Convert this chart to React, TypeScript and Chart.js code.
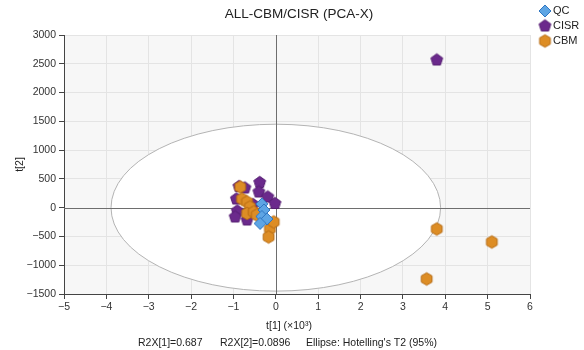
import React, { useEffect, useRef } from 'react';
import { Chart, registerables } from 'chart.js';

Chart.register(...registerables);

const TITLE = 'ALL-CBM/CISR (PCA-X)';
const X_TITLE = 't[1] (×10³)';
const Y_TITLE = 't[2]';
const FOOTNOTES = ['R2X[1]=0.687', 'R2X[2]=0.0896', "Ellipse: Hotelling's T2 (95%)"];
const SERIES_NAMES = ['QC', 'CISR', 'CBM'];

const X_MIN = -5;
const X_MAX = 6;
const X_STEP = 1;
const Y_MIN = -1500;
const Y_MAX = 3000;
const Y_STEP = 500;

// Hotelling's T2 ellipse semi-axes (data units)
const ELLIPSE_RX = 3.89;
const ELLIPSE_RY = 1450;

const QC_X = [-0.33, -0.28, -0.33, -0.21, -0.37];
const QC_Y = [64, -40, -153, -196, -275];

const CISR_X = [-0.87, -0.73, -0.38, -0.40, -0.19, -0.02, -0.93, -0.91, -0.96, -0.68, -0.54, 3.80];
const CISR_Y = [368, 342, 438, 273, 186, 73, 151, -57, -162, -214, 56, 2566];

const CBM_X = [-0.84, -0.80, -0.68, -0.61, -0.68, -0.52, -0.45, -0.14, -0.17, -0.05, 3.80, 5.10, 3.56];
const CBM_Y = [360, 151, 99, 12, -101, -75, -127, -370, -509, -248, -370, -596, -1239];

const FONT = '"Liberation Sans", Arial, sans-serif';

function makeShape(sides: number, r: number, fill: string, stroke: string): HTMLCanvasElement {
  const size = Math.ceil(r * 2 + 4);
  const c = document.createElement('canvas');
  c.width = size;
  c.height = size;
  const ctx = c.getContext('2d')!;
  const cx = size / 2;
  const cy = size / 2;
  ctx.beginPath();
  for (let i = 0; i < sides; i++) {
    const a = -Math.PI / 2 + (i * 2 * Math.PI) / sides;
    const px = cx + r * Math.cos(a);
    const py = cy + r * Math.sin(a);
    if (i === 0) ctx.moveTo(px, py);
    else ctx.lineTo(px, py);
  }
  ctx.closePath();
  ctx.fillStyle = fill;
  ctx.fill();
  ctx.lineWidth = 1;
  ctx.strokeStyle = stroke;
  ctx.stroke();
  return c;
}

function toPoints(xs: number[], ys: number[]) {
  return xs.map((x, i) => ({ x, y: ys[i] }));
}

const fmt = (v: number | string) => String(v).replace('-', '\u2212');

export default function App() {
  const ref = useRef<HTMLCanvasElement>(null);

  useEffect(() => {
    if (!ref.current) return;
    const qcShape = makeShape(4, 6, '#5ea5e4', '#2f76c2');
    const cisrShape = makeShape(5, 6.2, '#6b2a8c', '#561f72');
    const cbmShape = makeShape(6, 6.2, '#dd8d25', '#b56a12');
    const shapes = [qcShape, cisrShape, cbmShape];

    const decor = {
      id: 'decor',
      beforeDraw(chart: any) {
        const { ctx, chartArea: a } = chart;
        ctx.save();
        ctx.fillStyle = '#ffffff';
        ctx.fillRect(0, 0, chart.width, chart.height);
        ctx.fillStyle = '#f7f7f7';
        ctx.fillRect(a.left, a.top, a.right - a.left, a.bottom - a.top);
        ctx.restore();
      },
      beforeDatasetsDraw(chart: any) {
        const { ctx, chartArea: a, scales } = chart;
        const xs = scales.x;
        const ys = scales.y;
        const x0 = xs.getPixelForValue(0);
        const y0 = ys.getPixelForValue(0);
        const rx = xs.getPixelForValue(ELLIPSE_RX) - x0;
        const ry = y0 - ys.getPixelForValue(ELLIPSE_RY);
        ctx.save();
        ctx.beginPath();
        ctx.rect(a.left, a.top, a.right - a.left, a.bottom - a.top);
        ctx.clip();
        ctx.beginPath();
        ctx.ellipse(x0, y0, rx, ry, 0, 0, Math.PI * 2);
        ctx.fillStyle = '#ffffff';
        ctx.fill();
        ctx.lineWidth = 1;
        ctx.strokeStyle = '#b4b4b4';
        ctx.stroke();
        ctx.strokeStyle = '#6e6e6e';
        ctx.lineWidth = 1;
        ctx.beginPath();
        ctx.moveTo(Math.round(x0) + 0.5, a.top);
        ctx.lineTo(Math.round(x0) + 0.5, a.bottom);
        ctx.moveTo(a.left, Math.round(y0) + 0.5);
        ctx.lineTo(a.right, Math.round(y0) + 0.5);
        ctx.stroke();
        ctx.restore();
      },
      afterDraw(chart: any) {
        const { ctx, chartArea: a } = chart;
        ctx.save();
        ctx.fillStyle = '#222';
        ctx.textBaseline = 'middle';
        // title
        ctx.font = `13.5px ${FONT}`;
        ctx.textAlign = 'center';
        ctx.fillText(TITLE, 299, 14);
        // x title
        ctx.font = `10.5px ${FONT}`;
        ctx.fillText(X_TITLE, 289, 326);
        // y title
        ctx.save();
        ctx.translate(20, (a.top + a.bottom) / 2);
        ctx.rotate(-Math.PI / 2);
        ctx.fillText(Y_TITLE, 0, 0);
        ctx.restore();
        // footnotes
        ctx.textAlign = 'left';
        const fx = [138, 220, 306];
        FOOTNOTES.forEach((t, i) => ctx.fillText(t, fx[i], 343));
        // legend
        ctx.font = `11px ${FONT}`;
        const ly = [11, 26, 41];
        SERIES_NAMES.forEach((name, i) => {
          const s = shapes[i];
          ctx.drawImage(s, 545 - s.width / 2, ly[i] - s.height / 2);
          ctx.fillText(name, 553, ly[i]);
        });
        ctx.restore();
      },
    };

    const chart = new Chart(ref.current, {
      type: 'scatter',
      data: {
        datasets: [
          { label: SERIES_NAMES[0], data: toPoints(QC_X, QC_Y), pointStyle: qcShape as any, pointRadius: 6 },
          { label: SERIES_NAMES[2], data: toPoints(CBM_X, CBM_Y), pointStyle: cbmShape as any, pointRadius: 6 },
          { label: SERIES_NAMES[1], data: toPoints(CISR_X, CISR_Y), pointStyle: cisrShape as any, pointRadius: 6 },
        ],
      },
      options: {
        animation: false,
        responsive: false,
        maintainAspectRatio: false,
        layout: { padding: { top: 35, right: 54, left: 0, bottom: 0 } },
        plugins: { legend: { display: false }, title: { display: false }, tooltip: { enabled: false } },
        scales: {
          x: {
            type: 'linear',
            min: X_MIN,
            max: X_MAX,
            afterFit: (s: any) => { s.height = 56; },
            ticks: {
              stepSize: X_STEP,
              color: '#333',
              font: { family: FONT, size: 10.5 },
              padding: 2,
              maxRotation: 0,
              callback: (v: any) => fmt(v),
            },
            grid: {
              color: (c: any) => (c.tick && c.tick.value === 0 ? 'rgba(0,0,0,0)' : '#e4e4e4'),
              tickColor: '#444',
              tickLength: 5,
            },
            border: { color: '#444', width: 1 },
          },
          y: {
            type: 'linear',
            min: Y_MIN,
            max: Y_MAX,
            afterFit: (s: any) => { s.width = 64; },
            ticks: {
              stepSize: Y_STEP,
              color: '#333',
              font: { family: FONT, size: 10.5 },
              padding: 3,
              callback: (v: any) => fmt(v),
            },
            grid: {
              color: (c: any) => (c.tick && c.tick.value === 0 ? 'rgba(0,0,0,0)' : '#e4e4e4'),
              tickColor: '#444',
              tickLength: 5,
            },
            border: { color: '#444', width: 1 },
          },
        },
      },
      plugins: [decor],
    });
    return () => chart.destroy();
  }, []);

  return (
    <div style={{ position: 'fixed', left: 0, top: 0, width: 584, height: 350 }}>
      <canvas ref={ref} width={584} height={350} style={{ width: 584, height: 350 }} />
    </div>
  );
}
